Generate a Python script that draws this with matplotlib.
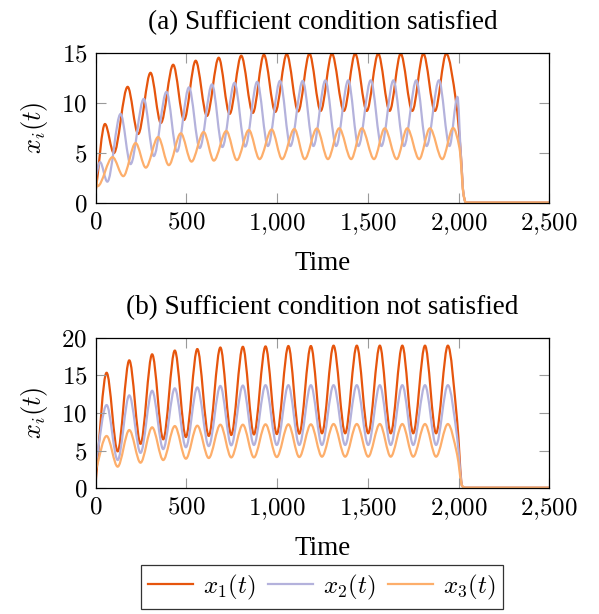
import numpy as np
import matplotlib.pyplot as plt
from matplotlib.path import Path
from matplotlib.patches import PathPatch
from matplotlib.lines import Line2D
from matplotlib.ticker import FuncFormatter

plt.rcParams['mathtext.fontset'] = 'cm'
plt.rcParams['font.family'] = ['Liberation Serif', 'DejaVu Serif']

# colours of the three states
c1, c2, c3 = '#e6550d', '#b4b2dc', '#fdae6b'

# (a) sufficient condition satisfied -- turning points
ta1 = [0, 51, 100, 176, 234, 302, 359, 427, 487, 551, 613, 678, 738, 802, 866, 927,
       990, 1053, 1116, 1178, 1240, 1302, 1368, 1430, 1494, 1557, 1620, 1681, 1745,
       1806, 1870, 1932, 1987, 2011, 2028, 2040, 2500]
xa1 = [1.2, 7.9, 5.0, 11.6, 6.9, 13.0, 8.0, 13.8, 8.3, 14.2, 8.7, 14.5, 8.9, 14.7, 9.0,
       14.8, 9.1, 14.85, 9.15, 14.9, 9.2, 14.9, 9.2, 14.9, 9.2, 14.9, 9.2, 14.9, 9.2,
       14.9, 9.2, 14.9, 10.0, 5.3, 0.8, 0.08, 0.08]

ta2 = [0, 24, 64, 137, 192, 265, 320, 390, 448, 514, 573, 641, 698, 765, 824, 890,
       949, 1016, 1073, 1141, 1200, 1266, 1325, 1392, 1448, 1516, 1575, 1641, 1699,
       1767, 1824, 1892, 1950, 1994, 2012, 2028, 2040, 2500]
xa2 = [2.6, 4.1, 2.15, 8.9, 3.9, 10.4, 4.7, 11.1, 5.15, 11.55, 5.5, 11.85, 5.6, 12.0,
       5.65, 12.1, 5.7, 12.2, 5.7, 12.2, 5.7, 12.25, 5.7, 12.25, 5.7, 12.25, 5.7, 12.25,
       5.7, 12.25, 5.7, 12.25, 5.7, 10.6, 5.0, 0.8, 0.08, 0.08]

ta3 = [0, 10, 93, 152, 220, 276, 344, 403, 469, 528, 595, 651, 720, 778, 844, 903,
       970, 1027, 1095, 1152, 1219, 1280, 1342, 1408, 1467, 1534, 1593, 1659, 1717,
       1783, 1842, 1910, 1970, 2005, 2028, 2040, 2500]
xa3 = [3.0, 1.7, 4.6, 2.7, 6.0, 3.55, 6.6, 3.8, 6.97, 4.15, 7.1, 4.25, 7.2, 4.3, 7.3,
       4.4, 7.35, 4.4, 7.4, 4.4, 7.45, 4.4, 7.47, 4.4, 7.47, 4.4, 7.47, 4.4, 7.47, 4.4,
       7.47, 4.4, 7.5, 5.5, 0.8, 0.08, 0.08]

# (b) sufficient condition not satisfied -- all three in phase
tb = [0, 60, 121, 185, 247, 311, 372, 436, 497, 560, 623, 687, 747, 811, 872, 936,
      998, 1062, 1122, 1186, 1247, 1311, 1375, 1439, 1502, 1566, 1626, 1690, 1750,
      1815, 1876, 1941, 1992, 2020, 2035, 2500]
xb1 = [0.9, 15.35, 4.9, 17.0, 5.9, 17.8, 6.5, 18.3, 6.8, 18.5, 6.95, 18.7, 7.08, 18.8,
       7.15, 18.85, 7.2, 18.9, 7.25, 18.9, 7.3, 18.95, 7.3, 18.95, 7.3, 18.95, 7.3,
       18.95, 7.3, 18.95, 7.3, 18.95, 9.0, 0.3, 0.08, 0.08]
xb2 = [3.2, 11.06, 3.75, 12.35, 4.7, 12.96, 5.2, 13.28, 5.45, 13.4, 5.6, 13.6, 5.7,
       13.65, 5.75, 13.7, 5.75, 13.7, 5.75, 13.7, 5.75, 13.7, 5.75, 13.7, 5.75, 13.7,
       5.75, 13.7, 5.75, 13.7, 5.75, 13.7, 6.8, 0.3, 0.08, 0.08]
xb3 = [2.4, 6.95, 2.87, 7.74, 3.4, 8.1, 3.75, 8.27, 3.93, 8.32, 4.02, 8.45, 4.1, 8.45,
       4.1, 8.5, 4.15, 8.5, 4.15, 8.5, 4.2, 8.54, 4.2, 8.54, 4.2, 8.54, 4.2, 8.54, 4.2,
       8.54, 4.2, 8.54, 4.5, 0.3, 0.08, 0.08]

labels = [r'$x_1(t)$', r'$x_2(t)$', r'$x_3(t)$']


def smooth_path(x, y):
    # monotone cubic (pchip-style) tangents, drawn as bezier segments
    x = np.asarray(x, float)
    y = np.asarray(y, float)
    h = np.diff(x)
    d = np.diff(y) / h
    m = np.zeros(len(x))
    m[0] = d[0]
    for k in range(1, len(x) - 1):
        if d[k - 1] * d[k] > 0:
            w1 = 2 * h[k] + h[k - 1]
            w2 = h[k] + 2 * h[k - 1]
            m[k] = (w1 + w2) / (w1 / d[k - 1] + w2 / d[k])
    verts = [(x[0], y[0])]
    codes = [Path.MOVETO]
    for k in range(len(x) - 1):
        s = h[k] / 3
        verts += [(x[k] + s, y[k] + m[k] * s),
                  (x[k + 1] - s, y[k + 1] - m[k + 1] * s),
                  (x[k + 1], y[k + 1])]
        codes += [Path.CURVE4] * 3
    return Path(verts, codes)


def style(ax, ymax, ystep, title):
    ax.set_xlim(0, 2500)
    ax.set_ylim(0, ymax)
    ax.set_xticks(np.arange(0, 2501, 500))
    ax.set_yticks(np.arange(0, ymax + 1, ystep))
    fmt = FuncFormatter(lambda v, p: '$' + f'{v:,.0f}'.replace(',', '{,}') + '$')
    ax.xaxis.set_major_formatter(fmt)
    ax.yaxis.set_major_formatter(fmt)
    ax.tick_params(direction='in', length=7.5, width=0.8, color='#9a9a9a',
                   top=True, right=True, labelsize=18, pad=6)
    for sp in ax.spines.values():
        sp.set_linewidth(0.9)
    ax.set_title(title, fontsize=19.5, pad=17)
    ax.set_xlabel('Time', fontsize=19.5, labelpad=10)
    ax.set_ylabel(r'$x_i(t)$', fontsize=19, labelpad=8)


fig = plt.figure(figsize=(5.99, 6.14), dpi=100)
axa = fig.add_axes([0.1598, 0.6689, 0.7572, 0.2453])
axb = fig.add_axes([0.1598, 0.2047, 0.7572, 0.2453])

for ax, series in [(axa, [(ta1, xa1, c1), (ta2, xa2, c2), (ta3, xa3, c3)]),
                   (axb, [(tb, xb1, c1), (tb, xb2, c2), (tb, xb3, c3)])]:
    for t, v, c in series:
        ax.add_patch(PathPatch(smooth_path(t, v), facecolor='none', edgecolor=c,
                               lw=1.6, capstyle='round', joinstyle='round'))

style(axa, 15, 5, '(a) Sufficient condition satisfied')
style(axb, 20, 5, '(b) Sufficient condition not satisfied')

handles = [Line2D([], [], color=c, lw=1.6) for c in (c1, c2, c3)]
leg = fig.legend(handles, labels, loc='center', bbox_to_anchor=(0.5376, 0.044),
                 ncol=3, fontsize=18, frameon=True, fancybox=False, edgecolor='black',
                 handlelength=1.8, handletextpad=0.4, columnspacing=0.5,
                 borderpad=0.3, borderaxespad=0)
leg.get_frame().set_linewidth(0.9)

fig.savefig('out.png', dpi=100)
